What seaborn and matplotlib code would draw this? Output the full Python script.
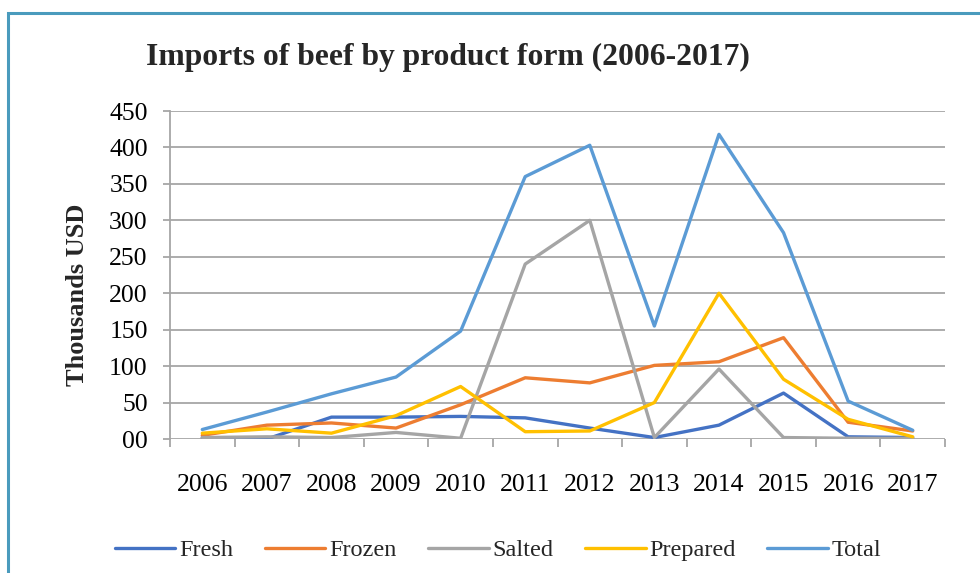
import matplotlib
matplotlib.use("Agg")
import matplotlib.pyplot as plt
from matplotlib.patches import Rectangle
import numpy as np
import pandas as pd
import seaborn as sns

years = ["2006", "2007", "2008", "2009", "2010", "2011",
         "2012", "2013", "2014", "2015", "2016", "2017"]
fresh = [2, 0, 30, 30, 31, 29, 15, 2, 19, 63, 3, 2]
frozen = [5, 19, 22, 15, 47, 84, 77, 101, 106, 139, 23, 11]
salted = [2, 3, 2, 9, 1, 240, 300, 2, 96, 2, 1, 1]
prepared = [8, 14, 8, 32, 72, 10, 11, 50, 200, 82, 27, 3]
total = [13, 37, 62, 85, 148, 360, 403, 155, 418, 283, 52, 12]

series_names = ["Fresh", "Frozen", "Salted", "Prepared", "Total"]
series_values = [fresh, frozen, salted, prepared, total]
colors = ["#4472C4", "#ED7D31", "#A5A5A5", "#FFC000", "#5B9BD5"]
y_ticks = [0, 50, 100, 150, 200, 250, 300, 350, 400, 450]
y_tick_labels = ["00", "50", "100", "150", "200", "250", "300", "350", "400", "450"]

rows = []
for name, vals in zip(series_names, series_values):
    for i, v in enumerate(vals):
        rows.append({"pos": i, "year": years[i], "series": name, "value": v})
df = pd.DataFrame(rows)

sns.set_theme(style="white")
plt.rcParams["font.family"] = ["Liberation Serif", "DejaVu Serif"]

fig = plt.figure(figsize=(9.8, 5.73), dpi=100)
fig.patch.set_facecolor("white")

# outer frame of the figure panel
fig.patches.append(Rectangle((8 / 980, -0.1), 1.2, 1 - 13 / 573 + 0.1,
                             transform=fig.transFigure, fill=False,
                             edgecolor="#4A9BBD", linewidth=2.2, zorder=0))

ax = fig.add_axes([170 / 980, 1 - 439 / 573, 775 / 980, 328 / 573])

sns.lineplot(data=df, x="pos", y="value", hue="series",
             hue_order=series_names, palette=colors, linewidth=2.4,
             ax=ax, legend=True, zorder=3)

ax.set_xlim(-0.5, 11.5)
ax.set_ylim(0, 450)
ax.set_yticks(y_ticks)
ax.set_yticklabels(y_tick_labels)
ax.set_xticks(range(len(years)))
ax.set_xticklabels(years)
ax.set_xticks(np.arange(-0.5, 12, 1), minor=True)

ax.grid(axis="y", color="#A6A6A6", linewidth=1.3, zorder=0)
ax.grid(axis="x", visible=False)
for s in ["top", "right", "bottom"]:
    ax.spines[s].set_visible(False)
ax.spines["left"].set_color("#A6A6A6")
ax.spines["left"].set_linewidth(1.3)

ax.tick_params(axis="x", which="major", length=0, pad=25, labelsize=18.5,
               labelcolor="black")
ax.tick_params(axis="x", which="minor", bottom=True, length=6, width=1.3,
               color="#A6A6A6")
ax.tick_params(axis="y", which="major", left=True, length=5, width=1.3,
               color="#A6A6A6", pad=11, labelsize=18.5, labelcolor="black")

ax.set_xlabel("")
ax.set_ylabel("Thousands USD", fontsize=19, fontweight="bold")
ax.yaxis.set_label_coords(-0.104, 0.44)

fig.text(448 / 980, 1 - 57 / 573, "Imports of beef by product form (2006-2017)",
         ha="center", va="center", fontsize=22.8, fontweight="bold")

handles, labels = ax.get_legend_handles_labels()
ax.legend_.remove()
leg = fig.legend(handles, labels, loc="center",
                 bbox_to_anchor=(498 / 980, 1 - 550 / 573), ncol=5,
                 frameon=False, fontsize=17.5, handlelength=2.5,
                 handletextpad=0.15, columnspacing=1.3)

fig.savefig("out.png", dpi=100, facecolor="white")
